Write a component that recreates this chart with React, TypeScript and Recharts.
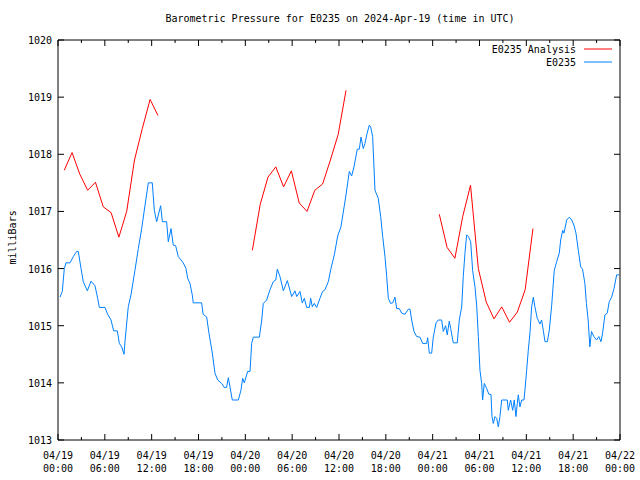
import { LineChart, Line, XAxis, YAxis } from 'recharts';

// hours since 04/19 00:00 UTC, pressure in mbar
const observed: [number, number][] = [
  [0.26, 1015.5], [0.55, 1015.6], [0.81, 1016.0], [1.02, 1016.1], [1.54, 1016.1], [1.96, 1016.21],
  [2.39, 1016.3], [2.6, 1016.3], [2.95, 1016.0], [3.24, 1015.77], [3.76, 1015.61], [4.23, 1015.78],
  [4.74, 1015.7], [5.08, 1015.48], [5.3, 1015.32], [6.02, 1015.32], [6.36, 1015.2], [6.79, 1015.1],
  [7.13, 1014.91], [7.6, 1014.91], [7.86, 1014.69], [8.16, 1014.63], [8.46, 1014.5], [8.58, 1014.72],
  [9.0, 1015.33], [9.35, 1015.54], [9.86, 1015.97], [10.29, 1016.35], [10.72, 1016.7], [11.15, 1017.11],
  [11.57, 1017.5], [12.08, 1017.5], [12.34, 1017.02], [12.64, 1016.82], [13.15, 1017.1], [13.37, 1016.82],
  [13.92, 1016.82], [14.13, 1016.47], [14.48, 1016.7], [14.77, 1016.41], [15.07, 1016.4], [15.41, 1016.21],
  [16.05, 1016.1], [16.4, 1016.0], [16.61, 1015.83], [16.91, 1015.74], [17.2, 1015.54], [17.33, 1015.4],
  [18.4, 1015.4], [18.6, 1015.2], [19.05, 1015.15], [19.34, 1014.87], [19.77, 1014.52], [20.11, 1014.17],
  [20.46, 1014.05], [20.97, 1013.99], [21.3, 1013.92], [21.6, 1013.92], [21.82, 1014.09], [22.03, 1013.93],
  [22.33, 1013.7], [23.1, 1013.7], [23.44, 1013.87], [23.66, 1014.08], [23.87, 1014.0], [24.3, 1014.2],
  [24.6, 1014.2], [24.81, 1014.69], [25.02, 1014.8], [25.8, 1014.8], [26.1, 1015.1], [26.3, 1015.39],
  [26.73, 1015.45], [27.16, 1015.63], [27.58, 1015.77], [27.9, 1015.8], [28.1, 1015.99], [28.44, 1015.86],
  [28.87, 1015.61], [29.38, 1015.79], [29.94, 1015.51], [30.36, 1015.61], [30.58, 1015.51], [31.0, 1015.6],
  [31.3, 1015.4], [31.56, 1015.48], [31.86, 1015.32], [32.2, 1015.32], [32.37, 1015.48], [32.58, 1015.33],
  [32.83, 1015.39], [33.14, 1015.32], [33.56, 1015.48], [33.9, 1015.6], [34.2, 1015.63], [34.63, 1015.77],
  [34.97, 1016.0], [35.4, 1016.24], [35.83, 1016.57], [36.25, 1016.73], [36.9, 1017.29], [37.32, 1017.7],
  [37.62, 1017.62], [37.92, 1017.78], [38.34, 1018.09], [38.6, 1018.09], [38.82, 1018.3], [39.11, 1018.1],
  [39.33, 1018.19], [39.55, 1018.34], [39.88, 1018.51], [40.05, 1018.48], [40.31, 1018.31], [40.48, 1017.78],
  [40.61, 1017.37], [41.03, 1017.23], [41.34, 1016.91], [41.6, 1016.56], [41.89, 1016.21], [42.11, 1015.86],
  [42.32, 1015.48], [42.62, 1015.39], [42.88, 1015.4], [43.17, 1015.5], [43.39, 1015.3], [43.72, 1015.3],
  [44.03, 1015.22], [44.45, 1015.2], [44.88, 1015.29], [45.1, 1015.29], [45.31, 1015.1], [45.61, 1014.9],
  [45.95, 1014.81], [46.37, 1014.8], [46.72, 1014.69], [47.23, 1014.69], [47.36, 1014.79], [47.57, 1014.52],
  [47.87, 1014.52], [48.08, 1014.8], [48.43, 1015.05], [48.72, 1015.1], [49.15, 1015.1], [49.36, 1014.9],
  [49.66, 1015.0], [49.87, 1014.84], [50.13, 1015.08], [50.31, 1014.95], [50.64, 1014.7], [51.15, 1014.7],
  [51.41, 1015.1], [51.72, 1015.33], [51.92, 1015.86], [52.14, 1016.27], [52.35, 1016.59], [52.57, 1016.56],
  [52.87, 1016.47], [53.12, 1015.97], [53.42, 1015.68], [53.64, 1015.35], [53.85, 1014.81], [54.06, 1014.22],
  [54.28, 1013.99], [54.4, 1013.7], [54.61, 1013.99], [54.92, 1013.9], [55.21, 1013.8], [55.47, 1013.8],
  [55.6, 1013.41], [55.77, 1013.29], [55.98, 1013.41], [56.2, 1013.38], [56.41, 1013.23], [56.62, 1013.41],
  [56.84, 1013.7], [57.56, 1013.7], [57.69, 1013.52], [57.99, 1013.7], [58.25, 1013.52], [58.45, 1013.7],
  [58.67, 1013.41], [58.84, 1013.64], [58.97, 1013.79], [59.18, 1013.58], [59.4, 1013.7], [59.7, 1013.7],
  [59.82, 1013.87], [60.04, 1014.22], [60.25, 1014.57], [60.47, 1014.88], [60.68, 1015.33], [60.9, 1015.5],
  [61.1, 1015.33], [61.4, 1015.13], [61.75, 1015.03], [61.96, 1015.1], [62.17, 1014.92], [62.39, 1014.72],
  [62.69, 1014.72], [62.94, 1014.92], [63.25, 1015.36], [63.58, 1015.97], [63.89, 1016.12], [64.22, 1016.27],
  [64.4, 1016.5], [64.66, 1016.67], [64.82, 1016.62], [65.17, 1016.85], [65.5, 1016.9], [65.81, 1016.85],
  [66.1, 1016.76], [66.36, 1016.62], [66.66, 1016.32], [66.96, 1016.03], [67.2, 1015.99], [67.5, 1015.74],
  [67.7, 1015.39], [67.92, 1015.1], [68.14, 1014.63], [68.35, 1014.9], [68.65, 1014.81], [69.0, 1014.75],
  [69.29, 1014.81], [69.56, 1014.72], [69.77, 1014.87], [70.07, 1015.19], [70.37, 1015.22], [70.62, 1015.42],
  [70.93, 1015.5], [71.23, 1015.65], [71.57, 1015.89], [71.9, 1015.89],
];

const analysisRun1: [number, number][] = [
  [0.8, 1017.72], [1.8, 1018.03], [2.8, 1017.65], [3.8, 1017.37], [4.8, 1017.51], [5.8, 1017.08],
  [6.8, 1016.98], [7.8, 1016.55], [8.8, 1017.0], [9.8, 1017.9], [10.8, 1018.45], [11.8, 1018.96], [12.8, 1018.68],
];
const analysisRun2: [number, number][] = [
  [24.9, 1016.32], [25.9, 1017.12], [26.9, 1017.6], [27.9, 1017.78], [28.9, 1017.43], [29.9, 1017.71],
  [30.9, 1017.15], [31.9, 1017.0], [32.9, 1017.37], [33.9, 1017.48], [34.9, 1017.9], [35.9, 1018.35], [36.9, 1019.12],
];
const analysisRun3: [number, number][] = [
  [48.85, 1016.95], [49.85, 1016.37], [50.85, 1016.18], [51.85, 1016.91], [52.85, 1017.46], [53.85, 1016.0],
  [54.85, 1015.42], [55.85, 1015.12], [56.85, 1015.33], [57.85, 1015.06], [58.85, 1015.24], [59.85, 1015.63], [60.85, 1016.7],
];

const xTicks = [0, 3, 6, 9, 12, 15, 18, 21, 24, 27, 30, 33, 36, 39, 42, 45, 48, 51, 54, 57, 60, 63, 66, 69, 72];
const dayLabels = ['04/19', '04/19', '04/19', '04/19', '04/20', '04/20', '04/20', '04/20', '04/21', '04/21', '04/21', '04/21', '04/22'];
const timeLabels = ['00:00', '06:00', '12:00', '18:00', '00:00', '06:00', '12:00', '18:00', '00:00', '06:00', '12:00', '18:00', '00:00'];
const yTicks = [1013, 1014, 1015, 1016, 1017, 1018, 1019, 1020];

const FONT = '"DejaVu Sans Mono", "Liberation Mono", monospace';
const RED = '#ff0000';
const BLUE = '#0080ff';

const obsData = observed.map(([h, v]) => ({ h, v }));
// gaps between analysis runs are null points so the line breaks
const analysisData = [
  ...analysisRun1.map(([h, v]) => ({ h, v })),
  { h: 18, v: null },
  ...analysisRun2.map(([h, v]) => ({ h, v })),
  { h: 42, v: null },
  ...analysisRun3.map(([h, v]) => ({ h, v })),
];

function BottomTick(props: any) {
  const { x, y, payload } = props;
  const major = payload.value % 6 === 0;
  const idx = payload.value / 6;
  return (
    <g>
      <line x1={x} y1={y} x2={x} y2={y - (major ? 6 : 3)} stroke="#000" />
      {major && (
        <text x={x} y={y} textAnchor="middle" fontFamily={FONT} fontSize={10} fill="#000">
          <tspan x={x} dy={19}>{dayLabels[idx]}</tspan>
          <tspan x={x} dy={13}>{timeLabels[idx]}</tspan>
        </text>
      )}
    </g>
  );
}

function TopTick(props: any) {
  const { x, y, payload } = props;
  const major = payload.value % 6 === 0;
  return <line x1={x} y1={y} x2={x} y2={y + (major ? 6 : 3)} stroke="#000" />;
}

function LeftTick(props: any) {
  const { x, y, payload } = props;
  return (
    <g>
      <line x1={x} y1={y} x2={x + 6} y2={y} stroke="#000" />
      <text x={x - 6} y={y + 4} textAnchor="end" fontFamily={FONT} fontSize={10} fill="#000">
        {payload.value}
      </text>
    </g>
  );
}

function RightTick(props: any) {
  const { x, y } = props;
  return <line x1={x} y1={y} x2={x - 6} y2={y} stroke="#000" />;
}

function KeyBox() {
  const rows = [
    { label: 'E0235 Analysis', color: RED },
    { label: 'E0235', color: BLUE },
  ];
  return (
    <svg width={160} height={30} style={{ display: 'block' }}>
      {rows.map((r, i) => (
        <g key={r.label}>
          <text x={120} y={13 + i * 13} textAnchor="end" fontFamily={FONT} fontSize={10} fill="#000">
            {r.label}
          </text>
          <line x1={128} x2={156} y1={9 + i * 13} y2={9 + i * 13} stroke={r.color} strokeWidth={1} />
        </g>
      ))}
    </svg>
  );
}

export default function App() {
  return (
    <div style={{ position: 'absolute', left: 0, top: 0, width: 640, height: 480, background: '#fff' }}>
      <div
        style={{
          position: 'absolute', top: 13, left: 0, width: 680, textAlign: 'center',
          fontFamily: FONT, fontSize: 10, color: '#000',
        }}
      >
        Barometric Pressure for E0235 on 2024-Apr-19 (time in UTC)
      </div>
      <div
        style={{
          position: 'absolute', left: -13, top: 234, width: 50, textAlign: 'center',
          transform: 'rotate(-90deg)', fontFamily: FONT, fontSize: 10, color: '#000',
        }}
      >
        milliBars
      </div>
      <LineChart width={640} height={480} margin={{ top: 39, right: 19, bottom: 0, left: 0 }}>
        <XAxis
          dataKey="h"
          type="number"
          domain={[0, 72]}
          ticks={xTicks}
          interval={0}
          allowDataOverflow
          height={40}
          tickSize={0}
          tickMargin={0}
          tickLine={false}
          axisLine={{ stroke: '#000' }}
          tick={<BottomTick />}
        />
        <XAxis
          xAxisId="top"
          orientation="top"
          dataKey="h"
          type="number"
          domain={[0, 72]}
          ticks={xTicks}
          interval={0}
          allowDataOverflow
          height={1}
          tickSize={0}
          tickMargin={0}
          tickLine={false}
          axisLine={{ stroke: '#000' }}
          tick={<TopTick />}
        />
        <YAxis
          type="number"
          domain={[1013, 1020]}
          ticks={yTicks}
          interval={0}
          allowDataOverflow
          width={58}
          tickSize={0}
          tickMargin={0}
          tickLine={false}
          axisLine={{ stroke: '#000' }}
          tick={<LeftTick />}
        />
        <YAxis
          yAxisId="right"
          orientation="right"
          type="number"
          domain={[1013, 1020]}
          ticks={yTicks}
          interval={0}
          allowDataOverflow
          width={1}
          tickSize={0}
          tickMargin={0}
          tickLine={false}
          axisLine={{ stroke: '#000' }}
          tick={<RightTick />}
        />
        <Line
          data={analysisData}
          dataKey="v"
          name="E0235 Analysis"
          stroke={RED}
          strokeWidth={1}
          dot={false}
          activeDot={false}
          connectNulls={false}
          isAnimationActive={false}
        />
        <Line
          data={obsData}
          xAxisId="top"
          yAxisId="right"
          dataKey="v"
          name="E0235"
          stroke={BLUE}
          strokeWidth={1}
          dot={false}
          activeDot={false}
          isAnimationActive={false}
        />
      </LineChart>
      <div style={{ position: 'absolute', top: 40, right: 24, width: 160 }}>
        <KeyBox />
      </div>
    </div>
  );
}
